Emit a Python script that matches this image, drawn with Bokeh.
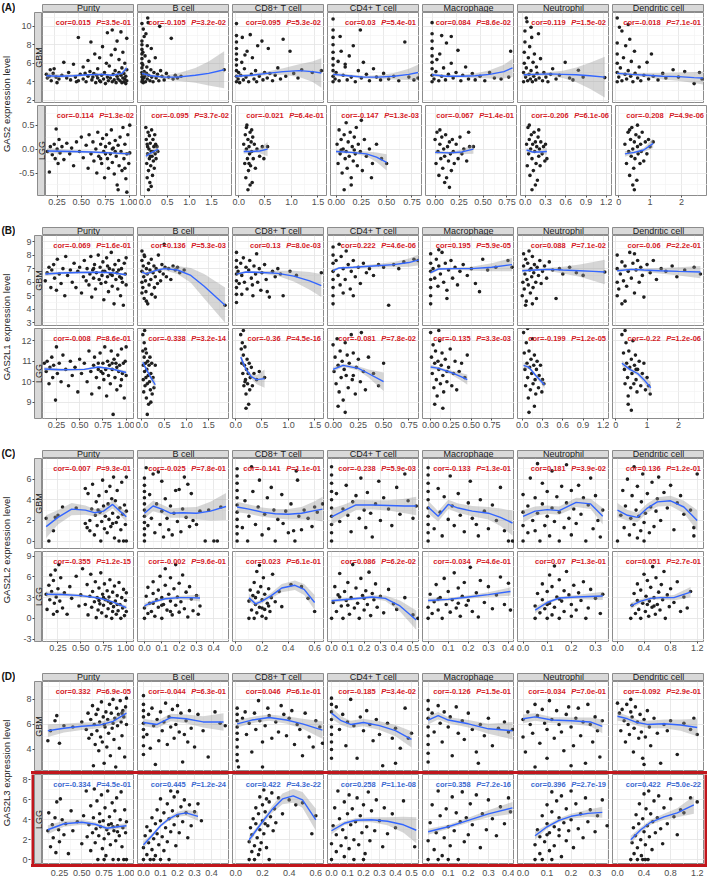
import math
from bokeh.plotting import figure
from bokeh.layouts import row, column
from bokeh.models import Label, FixedTicker, NumeralTickFormatter, Range1d, Grid, LinearAxis, Spacer, Div
from bokeh.embed import file_html
from bokeh.resources import INLINE
from bokeh.core.validation import silence
from bokeh.core.validation.warnings import MISSING_RENDERERS

silence(MISSING_RENDERERS, True)

# ---------------------------------------------------------------- labels
PANELS = ["A", "B", "C", "D"]
GENE_TITLES = ["GAS2 expression level", "GAS2L1 expression level",
               "GAS2L2 expression level", "GAS2L3 expression level"]
CELL_KEYS = ["PUR", "BC", "CD8", "CD4", "MAC", "NEU", "DC"]
CELL_NAMES = ["Purity", "B cell", "CD8+ T cell", "CD4+ T cell",
              "Macrophage", "Neutrophil", "Dendritic cell"]

# ---------------------------------------------------------------- axes
XT_AB = [[0.25, 0.5, 0.75, 1.0], [0, 0.5, 1, 1.5], [0, 0.5, 1, 1.5], [0, 0.25, 0.5, 0.75],
         [0, 0.25, 0.5, 0.75], [0, 0.3, 0.6, 0.9, 1.2], [0, 1, 2]]
XF_AB = ["0.00", "0.0", "0.0", "0.00", "0.00", "0.0", "0"]
XT_CD = [[0.25, 0.5, 0.75, 1.0], [0, 0.1, 0.2, 0.3, 0.4], [0, 0.2, 0.4, 0.6],
         [0, 0.1, 0.2, 0.3, 0.4, 0.5], [0, 0.1, 0.2, 0.3, 0.4], [0, 0.1, 0.2, 0.3], [0, 0.4, 0.8, 1.2]]
XF_CD = ["0.00", "0.0", "0.0", "0.0", "0.0", "0.0", "0.0"]

A_XR = [(0.13, 1.08), (-0.1, 1.97), (-0.055, 1.68), (-0.055, 0.855), (-0.1, 0.86), (-0.07, 1.29), (-0.1, 2.83)]
B_XR = [(0.1, 1.09), (-0.1, 1.97), (-0.055, 1.68), (-0.055, 0.855), (-0.1, 1.03), (-0.07, 1.29), (-0.1, 2.83)]
C_XR = [(0.08, 1.09), (-0.04, 0.49), (-0.025, 0.675), (-0.025, 0.54), (-0.028, 0.43), (-0.023, 0.358), (-0.075, 1.31)]
D_XR = [(0.06, 1.09), (-0.035, 0.505), (-0.025, 0.665), (-0.025, 0.55), (-0.028, 0.43), (-0.023, 0.36), (-0.075, 1.31)]

A_YR_GBM, A_YT_GBM, A_YF_GBM = (1.75, 11.5), [2, 4, 6, 8, 10], "0"
A_YR_LGG, A_YT_LGG, A_YF_LGG = (-0.97, 0.91), [-0.5, 0, 0.5], "0.0"
B_YR_GBM, B_YT_GBM, B_YF_GBM = (2.8, 9.45), [3, 4, 5, 6, 7, 8, 9], "0"
B_YR_LGG, B_YT_LGG, B_YF_LGG = (8.2, 12.6), [9, 10, 11, 12], "0"
C_YR_GBM, C_YT_GBM, C_YF_GBM = (-0.72, 8.0), [0, 2, 4, 6], "0"
C_YR_LGG, C_YT_LGG, C_YF_LGG = (-3.36, 9.7), [-3, 0, 3, 6, 9], "0"
D_YR_GBM, D_YT_GBM, D_YF_GBM = (2.24, 9.43), [4, 6, 8], "0"
D_YR_LGG, D_YT_LGG, D_YF_LGG = (-0.49, 8.55), [0, 2, 4, 6, 8], "0"

# ---------------------------------------------------------------- statistics
A_GBM_COR = ["0.015", "-0.105", "0.095", "0.03", "0.084", "0.119", "-0.018"]
A_GBM_PV = ["3.5e-01", "3.2e-02", "5.3e-02", "5.4e-01", "8.6e-02", "1.5e-02", "7.1e-01"]
A_LGG_COR = ["-0.114", "-0.095", "-0.021", "-0.147", "-0.067", "-0.206", "-0.208"]
A_LGG_PV = ["1.3e-02", "3.7e-02", "6.4e-01", "1.3e-03", "1.4e-01", "6.1e-06", "4.9e-06"]
B_GBM_COR = ["-0.069", "0.136", "0.13", "0.222", "0.195", "0.088", "-0.06"]
B_GBM_PV = ["1.6e-01", "5.3e-03", "8.0e-03", "4.6e-06", "5.9e-05", "7.1e-02", "2.2e-01"]
B_LGG_COR = ["-0.008", "-0.338", "-0.36", "-0.081", "-0.135", "-0.199", "-0.22"]
B_LGG_PV = ["8.6e-01", "3.2e-14", "4.5e-16", "7.8e-02", "3.3e-03", "1.2e-05", "1.2e-06"]
C_GBM_COR = ["-0.007", "-0.025", "-0.141", "-0.238", "-0.133", "0.181", "0.136"]
C_GBM_PV = ["9.3e-01", "7.8e-01", "1.1e-01", "5.9e-03", "1.3e-01", "3.9e-02", "1.2e-01"]
C_LGG_COR = ["-0.355", "-0.002", "0.023", "0.086", "-0.034", "0.07", "0.051"]
C_LGG_PV = ["1.2e-15", "9.6e-01", "6.1e-01", "6.2e-02", "4.6e-01", "1.3e-01", "2.7e-01"]
D_GBM_COR = ["0.332", "-0.044", "0.046", "-0.185", "-0.126", "-0.034", "-0.092"]
D_GBM_PV = ["6.9e-05", "6.3e-01", "6.1e-01", "3.4e-02", "1.5e-01", "7.0e-01", "2.9e-01"]
D_LGG_COR = ["-0.334", "0.445", "0.422", "0.258", "0.358", "0.396", "0.422"]
D_LGG_PV = ["4.5e-01", "1.2e-24", "4.3e-22", "1.1e-08", "7.2e-16", "2.7e-19", "5.0e-22"]

# ---------------------------------------------------------------- panel A (GAS2) points / fits
A_GBM_PUR = [(.17,4.8),(.18,4.4),(.2,4.6),(.21,5.3),(.22,4.1),(.24,4.9),(.25,5.4),(.27,4.5),(.28,3.9),(.3,4.3),(.33,4.7),(.35,6.1),(.38,4.4),(.4,5.0),(.42,4.2),(.45,5.9),(.47,4.5),(.5,8.8),(.5,4.1),(.52,4.8),(.55,5.6),(.55,4.3),(.58,4.0),(.6,4.6),(.6,6.3),(.62,5.1),(.63,8.3),(.64,4.2),(.66,4.9),(.67,7.0),(.68,3.9),(.7,4.4),(.7,5.4),(.72,6.6),(.72,4.1),(.74,4.7),(.75,7.8),(.76,4.3),(.77,5.0),(.78,3.8),(.79,6.0),(.8,4.5),(.8,9.3),(.81,4.1),(.82,5.7),(.83,4.4),(.84,6.9),(.85,4.0),(.85,9.6),(.86,4.8),(.87,4.2),(.88,7.5),(.88,5.2),(.89,3.9),(.9,4.6),(.9,8.4),(.91,4.3),(.92,5.0),(.92,6.4),(.93,4.1),(.94,4.7),(.94,9.4),(.95,3.9),(.95,5.5),(.96,4.4),(.96,7.2),(.97,4.0),(.97,4.9),(.98,4.3),(.98,6.0),(.99,3.8),(.99,4.6),(1.0,5.3),(1.0,4.1),(1.0,8.7),(.65,4.5),(.69,4.7),(.73,4.0),(.57,4.9),(.48,4.0)]
A_GBM_PUR_FIT = [(.17,4.65,.35),(.3,4.6,.2),(.45,4.65,.15),(.6,4.75,.12),(.75,4.8,.12),(.85,4.7,.12),(.95,4.9,.15),(1.0,5.5,.3)]
A_GBM_BC = [(0,4.0),(0,4.5),(0,5.0),(0,5.5),(0,6.0),(0,6.5),(0,7.0),(0,7.5),(0,8.0),(0,8.4),(0,10.3),(.01,4.2),(.01,4.8),(.02,5.8),(.02,7.2),(.03,3.9),(.04,4.4),(.05,5.1),(.06,4.6),(.07,6.8),(.08,4.0),(.09,9.2),(.1,4.9),(.11,5.6),(.12,4.3),(.13,10.9),(.14,10.4),(.15,4.7),(.16,6.2),(.18,4.1),(.2,5.3),(.21,7.6),(.22,4.5),(.25,4.0),(.27,5.0),(.3,6.6),(.32,4.4),(.35,4.8),(.38,4.1),(.4,10.0),(.42,5.2),(.45,4.6),(.5,4.2),(.55,4.9),(.6,4.5),(.66,8.7),(.7,4.3),(.75,4.7),(.8,4.4),(.88,4.6),(1.85,5.3),(.05,8.9),(.03,9.7),(.12,7.9)]
A_GBM_BC_FIT = [(0,4.9,.25),(.2,4.65,.15),(.5,4.5,.2),(.8,4.5,.4),(1.2,4.7,.8),(1.5,4.9,1.3),(1.85,5.3,2.0)]
A_GBM_CD8 = [(.02,4.0),(.02,4.6),(.02,5.2),(.02,5.8),(.02,6.4),(.02,7.0),(.02,7.6),(.02,8.3),(.02,9.0),(.02,10.3),(.05,4.3),(.06,5.0),(.08,3.9),(.1,4.7),(.12,6.1),(.15,4.2),(.17,5.4),(.2,4.5),(.22,7.3),(.25,4.0),(.28,9.1),(.3,4.8),(.32,6.6),(.35,4.3),(.38,5.2),(.4,4.0),(.42,7.9),(.45,4.6),(.5,8.4),(.52,4.2),(.55,5.0),(.6,4.4),(.62,7.6),(.65,4.9),(.7,4.1),(.75,4.7),(.8,5.5),(.85,4.3),(.9,8.6),(.95,4.6),(1.03,7.3),(1.1,4.9),(1.18,4.4),(1.25,5.3),(1.45,5.0),(1.62,5.2),(.13,8.8),(.18,6.9)]
A_GBM_CD8_FIT = [(0,4.6,.2),(.3,4.7,.15),(.6,4.9,.2),(.9,5.1,.35),(1.2,5.2,.7),(1.45,5.1,1.1),(1.62,4.95,1.6)]
A_GBM_CD4 = [(0,4.0),(0,4.6),(0,5.2),(0,5.8),(0,6.5),(0,7.2),(0,8.0),(0,8.8),(0,9.6),(0,10.8),(.02,4.3),(.03,5.0),(.05,6.2),(.06,4.1),(.08,7.3),(.1,4.7),(.12,5.6),(.14,4.2),(.16,6.8),(.18,4.5),(.2,7.9),(.22,4.0),(.25,5.2),(.27,9.6),(.28,4.4),(.3,6.1),(.33,4.8),(.36,4.1),(.4,5.4),(.43,4.5),(.47,4.2),(.5,4.9),(.55,4.3),(.6,4.6),(.65,4.1),(.71,8.3),(.75,4.5),(.8,4.2),(.84,4.4),(.07,8.9),(.12,5.9)]
A_GBM_CD4_FIT = [(0,4.8,.2),(.15,4.65,.15),(.3,4.5,.15),(.45,4.5,.2),(.6,4.6,.35),(.75,4.8,.6),(.84,5.0,.85)]
A_GBM_MAC = [(0,4.0),(0,4.7),(0,5.4),(0,6.1),(0,6.8),(0,7.6),(0,8.4),(0,9.2),(0,10.4),(.02,4.3),(.04,5.1),(.05,6.4),(.07,4.1),(.08,7.0),(.1,4.6),(.12,5.5),(.14,4.2),(.15,8.2),(.17,4.8),(.2,6.0),(.22,4.4),(.25,5.0),(.27,7.4),(.3,4.1),(.32,4.7),(.35,5.6),(.38,4.3),(.42,4.9),(.45,4.2),(.5,4.6),(.55,4.1),(.6,5.0),(.65,4.4),(.72,4.3),(.8,4.5),(.82,7.3),(.1,9.0),(.2,8.9)]
A_GBM_MAC_FIT = [(0,4.75,.2),(.15,4.6,.15),(.3,4.6,.15),(.45,4.65,.25),(.6,4.8,.45),(.75,5.1,.75),(.84,5.5,1.0)]
A_GBM_NEU = [(.02,4.0),(.02,5.0),(.03,6.0),(.03,7.2),(.04,8.3),(.04,9.5),(.05,4.5),(.06,5.5),(.07,10.5),(.08,4.1),(.09,6.6),(.1,4.8),(.11,7.8),(.12,4.3),(.13,5.2),(.14,8.8),(.15,4.0),(.16,6.1),(.17,4.6),(.18,7.0),(.2,4.2),(.21,5.6),(.22,4.9),(.24,9.2),(.25,4.4),(.27,6.5),(.3,4.1),(.32,5.0),(.35,4.5),(.38,4.0),(.42,4.8),(.45,5.4),(.5,4.3),(.55,4.7),(.635,6.1),(.7,4.4),(.75,4.2),(.83,5.25),(.9,4.5),(1.22,4.45),(.06,10.9),(.13,9.9)]
A_GBM_NEU_FIT = [(.02,4.75,.2),(.2,4.8,.15),(.4,4.85,.2),(.6,4.8,.4),(.8,4.75,.8),(1.0,4.65,1.4),(1.22,4.5,2.2)]
A_GBM_DC = [(.05,4.0),(.05,5.0),(.05,6.0),(.05,7.0),(.05,8.2),(.05,10.9),(.1,4.5),(.15,5.5),(.2,9.5),(.2,4.1),(.25,6.6),(.3,4.8),(.32,7.9),(.35,4.3),(.4,5.2),(.45,8.6),(.48,4.6),(.5,6.2),(.55,4.0),(.6,7.3),(.62,4.9),(.7,4.4),(.75,5.6),(.8,4.1),(.9,4.7),(1.0,6.1),(1.05,4.3),(1.14,7.0),(1.2,4.6),(1.35,4.2),(1.5,4.9),(1.6,4.4),(1.83,5.3),(2.0,4.5),(2.2,5.1),(2.5,3.8),(2.67,5.0),(2.75,4.3),(.12,9.9),(.4,10.2)]
A_GBM_DC_FIT = [(.05,4.9,.2),(.5,4.8,.15),(1.0,4.7,.25),(1.5,4.6,.35),(2.0,4.55,.45),(2.5,4.45,.6),(2.78,4.4,.7)]
A_LGG_PUR = [(.15,-.05),(.17,-.48),(.18,.05),(.2,-.12),(.22,.1),(.23,-.2),(.24,.42),(.25,0),(.26,-.3),(.27,.2),(.28,-.08),(.3,.05),(.32,-.22),(.35,.12),(.38,-.1),(.4,.02),(.42,-.35),(.45,.15),(.48,-.05),(.5,.25),(.52,-.18),(.55,.08),(.57,-.4),(.58,.3),(.6,-.1),(.62,.15),(.63,-.25),(.65,0),(.66,-.5),(.67,.35),(.68,-.15),(.7,.1),(.71,-.3),(.72,.22),(.73,-.05),(.74,-.6),(.75,.05),(.76,.3),(.77,-.2),(.78,-.4),(.79,.12),(.8,-.1),(.81,.4),(.82,-.28),(.83,.02),(.84,-.52),(.85,.18),(.86,-.15),(.87,-.75),(.88,.08),(.89,-.35),(.9,.25),(.91,-.05),(.92,-.45),(.93,.45),(.94,-.2),(.95,.1),(.96,-.62),(.97,-.1),(.98,.3),(.99,-.3),(1.0,.5),(1.0,-.08),(.88,-.85),(.97,-.9),(.95,-.4),(.85,-.05),(.75,-.1),(.7,-.2),(.82,0)]
A_LGG_PUR_FIT = [(.15,-.04,.06),(.4,-.05,.03),(.6,-.06,.025),(.8,-.08,.025),(1.0,-.1,.04)]
A_LGG_BC = [(.02,.45),(.03,.2),(.04,-.3),(.05,.1),(.05,-.6),(.06,-.1),(.07,.35),(.08,-.45),(.09,0),(.1,-.2),(.1,.28),(.11,-.7),(.12,.12),(.13,-.35),(.14,-.05),(.15,.4),(.16,-.15),(.17,-.55),(.18,.2),(.19,-.25),(.2,.05),(.21,-.4),(.22,.3),(.23,-.1),(.24,.1),(.25,-.2),(.27,.05),(.29,-.05),(.08,-.85),(.14,-.78),(.06,.05),(.12,-.15),(.18,-.05)]
A_LGG_BC_FIT = [(.02,-.15,.06),(.1,-.1,.03),(.2,-.05,.04),(.3,0,.09)]
A_LGG_CD8 = [(.1,.1),(.12,-.3),(.13,.3),(.14,-.6),(.15,0),(.16,.5),(.17,-.2),(.18,.2),(.19,-.45),(.2,.05),(.21,-.1),(.22,.35),(.23,-.35),(.24,.15),(.25,-.05),(.26,-.7),(.27,.25),(.28,-.2),(.3,.1),(.32,-.4),(.35,0),(.4,-.15),(.45,.05),(.55,.05),(.18,-.85),(.22,-.75),(.15,.45),(.2,-.3),(.25,.4),(.48,-.2)]
A_LGG_CD8_FIT = [(.1,-.05,.05),(.25,-.05,.025),(.4,-.04,.05),(.55,0,.15)]
A_LGG_CD4 = [(.01,.1),(.02,-.3),(.03,.4),(.04,-.1),(.05,.2),(.06,-.5),(.07,0),(.08,.3),(.09,-.2),(.1,.55),(.1,-.05),(.11,-.4),(.12,.15),(.13,-.15),(.14,.35),(.15,-.6),(.16,.05),(.17,-.25),(.18,.25),(.19,-.1),(.2,.45),(.21,-.35),(.22,.1),(.24,-.05),(.26,-.45),(.28,.2),(.3,-.15),(.33,0),(.36,-.3),(.4,.1),(.45,-.2),(.5,-.3),(.15,-.75),(.08,-.85),(.25,.6),(.35,-.6),(.05,-.02),(.18,-.02)]
A_LGG_CD4_FIT = [(0,-.05,.04),(.15,-.07,.025),(.3,-.1,.05),(.4,-.17,.1),(.5,-.28,.17)]
A_LGG_MAC = [(0,.2),(.01,-.3),(.02,.35),(.03,-.05),(.04,-.55),(.05,.1),(.06,-.2),(.07,.25),(.08,-.4),(.09,0),(.1,-.15),(.11,.3),(.12,-.6),(.13,.05),(.14,-.25),(.15,.15),(.16,-.1),(.17,-.45),(.18,.2),(.19,-.05),(.2,-.3),(.22,.1),(.24,-.2),(.26,.25),(.28,-.1),(.3,0),(.33,-.25),(.36,.05),(.4,.05),(.35,.35),(.15,-.8),(.05,.4),(.1,-.7)]
A_LGG_MAC_FIT = [(0,-.07,.04),(.15,-.08,.025),(.28,-.06,.05),(.4,0,.1)]
A_LGG_NEU = [(.02,.1),(.03,-.35),(.04,.45),(.05,-.1),(.06,.2),(.07,-.55),(.08,0),(.09,.3),(.1,-.2),(.11,.1),(.12,-.45),(.13,.35),(.14,-.05),(.15,.15),(.16,-.3),(.17,.05),(.18,-.65),(.19,.25),(.2,-.15),(.21,0),(.22,-.35),(.23,.15),(.25,-.1),(.27,.05),(.29,-.25),(.3,.1),(.32,-.2),(.1,-.85),(.15,-.75),(.06,.5),(.2,.4)]
A_LGG_NEU_FIT = [(.02,-.02,.05),(.1,-.06,.03),(.2,-.06,.03),(.32,-.05,.07)]
A_LGG_DC = [(.2,.1),(.25,-.3),(.3,.35),(.32,-.05),(.35,-.55),(.38,.2),(.4,-.15),(.42,.45),(.45,0),(.48,-.4),(.5,.15),(.52,-.2),(.55,.3),(.58,-.65),(.6,.05),(.62,-.1),(.65,.25),(.68,-.3),(.7,.1),(.72,-.05),(.75,.35),(.8,-.25),(.85,.15),(.9,-.1),(.95,.2),(1.0,.05),(1.1,.15),(.5,-.85),(.45,-.75),(.6,.5),(.35,.4)]
A_LGG_DC_FIT = [(.2,-.1,.06),(.5,-.07,.03),(.8,-.02,.04),(1.1,.12,.1)]

# ---------------------------------------------------------------- panel B (GAS2L1)
B_GBM_PUR = [(.13,6.1),(.15,6.7),(.17,7.1),(.19,5.6),(.2,6.9),(.22,7.3),(.23,6.3),(.25,5.4),(.26,7.7),(.28,6.6),(.3,5.9),(.32,7.0),(.34,5.0),(.35,7.9),(.37,6.5),(.4,6.9),(.42,6.0),(.44,7.4),(.46,5.6),(.48,6.8),(.5,7.1),(.52,5.2),(.54,6.4),(.55,7.6),(.57,6.1),(.58,7.0),(.6,5.8),(.61,6.6),(.62,7.9),(.63,4.9),(.64,6.9),(.65,6.3),(.66,7.3),(.67,5.5),(.68,6.7),(.7,8.0),(.71,6.2),(.72,7.1),(.73,5.9),(.74,6.5),(.75,7.5),(.76,4.7),(.77,6.8),(.78,6.0),(.79,7.8),(.8,6.4),(.81,5.3),(.82,7.0),(.83,6.6),(.84,8.2),(.85,5.7),(.86,6.9),(.87,4.4),(.88,7.3),(.89,6.2),(.9,6.7),(.91,5.5),(.92,7.6),(.93,6.4),(.94,5.0),(.95,7.0),(.96,6.0),(.97,4.3),(.98,7.4),(.99,6.6),(1.0,5.8),(1.0,7.8),(.75,6.8),(.85,6.5),(.92,6.9),(.65,7.0),(.8,7.2),(.95,6.3)]
B_GBM_PUR_FIT = [(.13,6.6,.15),(.3,6.68,.1),(.5,6.72,.08),(.7,6.74,.06),(.85,6.7,.06),(1.0,6.55,.1)]
B_GBM_BC = [(0,5.2),(0,6.0),(0,6.8),(0,7.6),(0,8.3),(.02,5.6),(.03,7.2),(.04,6.4),(.05,4.8),(.06,7.9),(.08,6.1),(.09,5.3),(.1,7.0),(.12,6.6),(.13,4.4),(.15,7.4),(.16,5.8),(.18,6.9),(.2,6.2),(.21,7.7),(.22,5.1),(.25,6.7),(.27,7.2),(.28,5.6),(.3,6.4),(.32,7.0),(.35,5.9),(.37,8.0),(.4,6.8),(.42,6.1),(.45,7.3),(.48,6.6),(.5,8.8),(.52,7.1),(.55,6.4),(.6,7.0),(.65,6.2),(.7,7.2),(.75,6.9),(.8,7.1),(.85,6.7),(.95,6.9),(1.87,4.3),(.1,4.6),(.05,8.0),(.3,4.9)]
B_GBM_BC_FIT = [(0,6.75,.15),(.1,6.62,.12),(.3,6.85,.1),(.5,7.0,.12),(.8,6.9,.3),(1.1,6.5,.55),(1.4,5.7,.9),(1.87,4.3,1.3)]
B_GBM_CD8 = [(.02,4.5),(.02,5.1),(.02,5.6),(.02,6.1),(.02,6.6),(.02,7.1),(.02,7.6),(.02,8.2),(.05,6.8),(.07,5.9),(.1,7.4),(.12,6.5),(.15,7.8),(.17,6.0),(.2,7.1),(.22,5.5),(.25,6.9),(.27,7.6),(.3,6.3),(.32,5.8),(.35,7.2),(.38,6.6),(.4,8.1),(.42,6.0),(.45,7.0),(.48,5.4),(.5,6.7),(.55,7.3),(.58,6.2),(.64,4.9),(.7,6.8),(.75,6.4),(.8,7.0),(.85,6.6),(.9,5.0),(1.03,6.8),(1.15,6.5),(1.62,6.7),(.6,5.3),(.33,5.0),(.12,5.1)]
B_GBM_CD8_FIT = [(.02,6.6,.1),(.2,6.75,.08),(.5,6.72,.1),(.8,6.65,.2),(1.1,6.45,.4),(1.4,6.1,.65),(1.62,5.75,.85)]
B_GBM_CD4 = [(0,4.4),(0,5.0),(0,5.6),(0,6.2),(0,6.8),(0,7.4),(0,8.0),(0,8.6),(.03,7.6),(.05,6.5),(.07,5.8),(.08,7.9),(.1,7.0),(.12,6.2),(.13,8.3),(.15,7.3),(.17,5.5),(.18,6.8),(.2,7.6),(.22,6.4),(.25,7.1),(.27,5.9),(.3,7.4),(.33,6.7),(.36,7.0),(.4,6.5),(.45,7.3),(.5,7.1),(.55,4.3),(.6,7.3),(.65,7.0),(.7,7.5),(.8,7.7),(.84,7.6),(.06,8.8),(.1,5.2),(.2,5.0)]
B_GBM_CD4_FIT = [(0,6.85,.12),(.06,7.05,.08),(.2,7.1,.08),(.4,7.2,.12),(.6,7.3,.2),(.75,7.45,.3),(.85,7.65,.4)]
B_GBM_MAC = [(0,4.4),(0,5.0),(0,5.6),(0,6.2),(0,6.8),(0,7.4),(0,8.1),(.03,7.0),(.05,6.3),(.07,7.7),(.09,5.7),(.1,7.2),(.12,6.6),(.14,8.2),(.16,6.0),(.18,7.4),(.2,5.4),(.22,6.9),(.25,7.6),(.27,6.3),(.3,7.1),(.33,5.8),(.36,6.8),(.4,7.3),(.45,6.5),(.5,7.0),(.55,5.9),(.6,5.3),(.64,7.7),(.7,6.9),(.8,7.1),(.95,7.6),(1.0,7.1),(.2,4.8),(.1,8.4)]
B_GBM_MAC_FIT = [(0,6.7,.12),(.1,6.98,.08),(.3,7.0,.08),(.5,7.0,.15),(.75,7.1,.3),(1.0,7.3,.5)]
B_GBM_NEU = [(0,5.0),(.01,6.0),(.02,7.2),(.02,8.1),(.03,5.5),(.04,6.6),(.05,7.7),(.06,4.6),(.07,6.2),(.08,7.4),(.09,5.8),(.1,8.3),(.11,6.9),(.12,5.2),(.13,7.0),(.14,6.4),(.15,7.9),(.16,5.6),(.17,6.7),(.18,7.3),(.2,6.0),(.21,4.8),(.22,7.1),(.24,6.5),(.26,7.6),(.28,5.9),(.3,6.8),(.33,7.2),(.36,6.3),(.4,7.5),(.45,6.9),(.5,4.8),(.55,7.0),(.6,6.6),(.7,7.1),(.8,6.7),(.9,6.5),(1.22,6.75),(.05,4.3),(.15,4.4)]
B_GBM_NEU_FIT = [(0,6.85,.12),(.2,6.9,.08),(.4,6.95,.12),(.6,6.9,.25),(.85,6.85,.45),(1.05,6.8,.7),(1.22,6.75,.9)]
B_GBM_DC = [(.05,5.0),(.05,6.0),(.05,7.0),(.05,8.0),(.1,5.5),(.15,6.6),(.2,7.5),(.2,4.4),(.25,6.1),(.3,7.2),(.35,5.7),(.4,6.8),(.45,8.2),(.5,6.3),(.55,7.4),(.6,5.2),(.65,6.9),(.7,7.6),(.75,6.0),(.8,7.1),(.85,6.5),(.9,4.9),(1.0,7.3),(1.1,6.7),(1.2,7.6),(1.3,6.2),(1.45,7.0),(1.6,6.8),(1.8,7.2),(1.95,6.4),(2.2,6.9),(2.5,7.1),(2.7,6.6),(.3,4.6),(.6,8.1)]
B_GBM_DC_FIT = [(.05,6.85,.12),(.5,6.95,.08),(.9,6.9,.12),(1.4,6.85,.2),(2.0,6.8,.3),(2.7,6.75,.45)]
B_LGG_PUR = [(.12,10.9),(.14,10.5),(.15,11.0),(.17,9.9),(.18,10.7),(.2,11.2),(.21,10.2),(.22,10.8),(.24,9.1),(.25,11.7),(.26,10.4),(.28,10.9),(.3,10.0),(.32,11.3),(.35,10.6),(.38,9.8),(.4,11.0),(.42,10.3),(.45,10.7),(.48,9.5),(.5,11.1),(.52,10.4),(.55,10.9),(.58,10.0),(.6,11.5),(.62,10.5),(.63,9.4),(.65,10.8),(.66,11.2),(.68,10.2),(.7,10.9),(.71,9.7),(.72,11.4),(.73,10.5),(.75,10.9),(.76,10.1),(.77,11.7),(.78,10.6),(.79,9.3),(.8,11.0),(.81,10.3),(.82,10.8),(.83,9.9),(.84,11.5),(.85,10.6),(.86,8.4),(.87,11.1),(.88,10.2),(.89,10.9),(.9,9.6),(.91,11.3),(.92,10.5),(.93,10.8),(.94,9.8),(.95,11.6),(.96,10.4),(.97,10.9),(.98,9.2),(.99,11.0),(1.0,10.3),(1.0,11.7),(.85,10.9),(.75,10.4),(.9,10.7),(.95,10.1),(.7,10.6)]
B_LGG_PUR_FIT = [(.12,10.62,.1),(.3,10.58,.06),(.55,10.6,.05),(.7,10.72,.05),(.85,10.62,.05),(1.0,10.45,.08)]
B_LGG_BC = [(.02,12.3),(.02,11.5),(.03,10.8),(.03,10.1),(.04,9.5),(.05,11.9),(.05,11.2),(.06,10.5),(.07,9.8),(.08,11.6),(.08,10.9),(.09,10.2),(.1,9.2),(.1,11.4),(.11,10.6),(.12,9.9),(.13,11.0),(.14,10.3),(.15,8.9),(.16,10.8),(.17,10.0),(.18,11.2),(.19,9.6),(.2,10.4),(.22,10.9),(.23,9.4),(.25,10.2),(.27,9.7),(.3,10.8),(.12,8.4),(.06,12.5),(.2,9.0)]
B_LGG_BC_FIT = [(.02,10.95,.15),(.1,10.6,.08),(.2,10.2,.1),(.3,9.85,.22)]
B_LGG_CD8 = [(.1,12.3),(.11,11.6),(.12,10.9),(.13,11.9),(.14,10.4),(.15,11.3),(.16,9.8),(.17,10.8),(.18,11.7),(.19,10.1),(.2,9.4),(.21,10.6),(.22,11.1),(.23,9.9),(.24,10.4),(.25,8.9),(.26,10.9),(.27,9.6),(.28,10.2),(.3,10.7),(.32,9.8),(.35,10.4),(.4,10.1),(.45,10.5),(.55,10.2),(.15,12.5),(.2,8.7),(.18,10.0)]
B_LGG_CD8_FIT = [(.1,11.2,.2),(.2,10.6,.08),(.3,10.25,.12),(.4,10.1,.22),(.55,10.15,.45)]
B_LGG_CD4 = [(0,11.8),(.01,10.5),(.02,11.2),(.03,9.9),(.04,12.1),(.05,10.8),(.06,9.5),(.07,11.5),(.08,10.2),(.09,11.0),(.1,9.1),(.11,10.6),(.12,11.9),(.13,10.3),(.14,11.3),(.15,9.7),(.16,10.9),(.18,12.3),(.19,10.1),(.2,11.4),(.22,9.4),(.23,10.7),(.25,11.1),(.27,10.0),(.3,10.5),(.32,9.6),(.35,11.2),(.4,10.4),(.45,9.8),(.5,10.9),(.05,8.8),(.12,8.5),(.28,12.4),(.2,10.3)]
B_LGG_CD4_FIT = [(0,10.6,.12),(.1,10.8,.08),(.25,10.65,.1),(.35,10.4,.2),(.5,10.0,.45)]
B_LGG_MAC = [(0,12.4),(.01,11.2),(.02,10.4),(.03,11.8),(.04,9.7),(.05,10.9),(.06,11.5),(.07,10.1),(.08,9.3),(.09,11.0),(.1,10.6),(.11,12.0),(.12,9.9),(.13,10.8),(.14,11.4),(.15,10.3),(.16,9.5),(.18,11.1),(.2,10.0),(.22,10.7),(.24,11.6),(.26,9.8),(.28,10.4),(.3,11.0),(.32,9.6),(.35,10.5),(.38,10.9),(.42,10.2),(.45,11.3),(.05,8.9),(.15,8.7),(.1,12.5),(.2,10.5)]
B_LGG_MAC_FIT = [(0,10.72,.12),(.1,10.65,.07),(.25,10.45,.1),(.4,10.2,.2),(.45,10.1,.25)]
B_LGG_NEU = [(.02,12.4),(.03,11.4),(.04,10.6),(.05,9.8),(.06,11.9),(.07,10.9),(.08,10.2),(.09,9.2),(.1,11.5),(.11,10.7),(.12,9.6),(.13,11.1),(.14,10.4),(.15,12.1),(.16,9.9),(.17,10.8),(.18,11.3),(.19,10.1),(.2,9.4),(.21,10.6),(.22,11.0),(.24,9.7),(.25,10.3),(.27,10.8),(.29,9.5),(.3,10.1),(.32,9.9),(.1,8.5),(.08,12.6),(.18,8.8)]
B_LGG_NEU_FIT = [(.02,10.8,.15),(.1,10.7,.08),(.2,10.3,.08),(.3,9.95,.15),(.33,9.85,.2)]
B_LGG_DC = [(.2,12.3),(.25,11.4),(.28,10.6),(.3,9.9),(.33,11.9),(.35,10.9),(.38,10.2),(.4,9.3),(.42,11.5),(.45,10.7),(.48,9.7),(.5,11.1),(.52,10.4),(.55,12.0),(.58,9.9),(.6,10.8),(.63,11.3),(.65,10.1),(.68,9.5),(.7,10.6),(.75,11.0),(.8,9.8),(.85,10.4),(.9,10.9),(.95,9.6),(1.0,10.2),(1.05,9.8),(1.1,9.4),(.5,8.6),(.4,8.9),(.3,12.5),(.65,10.6)]
B_LGG_DC_FIT = [(.2,10.9,.15),(.45,10.6,.08),(.7,10.4,.1),(.9,10.1,.15),(1.12,9.7,.3)]

# ---------------------------------------------------------------- panel C (GAS2L2)
C_GBM_PUR = [(.12,2.2),(.15,0),(.2,1.0),(.22,2.3),(.25,2.5),(.3,3.3),(.45,3.2),(.55,5.1),(.57,1.3),(.58,4.6),(.6,1.0),(.6,2.0),(.62,3.1),(.63,5.5),(.65,.6),(.66,2.5),(.67,3.8),(.68,1.5),(.7,4.4),(.71,2.8),(.72,0),(.73,1.9),(.74,5.9),(.75,3.4),(.76,1.2),(.77,2.4),(.78,4.8),(.79,.8),(.8,3.6),(.81,2.1),(.82,5.3),(.83,1.4),(.84,4.1),(.85,2.7),(.86,6.2),(.87,.3),(.88,3.9),(.89,1.8),(.9,4.9),(.91,2.3),(.92,0),(.93,3.2),(.94,1.1),(.95,5.7),(.96,2.6),(.97,0),(.98,3.5),(.99,1.6),(1.0,0),(1.0,6.2),(1.0,2.9),(.55,1.7),(.69,3.0),(.85,1.7)]
C_GBM_PUR_FIT = [(.12,1.4,1.1),(.25,2.3,.7),(.4,3.1,.6),(.55,3.0,.45),(.65,2.75,.35),(.75,2.9,.35),(.85,3.55,.4),(.93,2.9,.4),(1.0,2.35,.5)]
C_GBM_BC = [(0,0),(0,.6),(0,1.2),(0,1.8),(0,2.4),(0,3.0),(0,3.6),(0,4.2),(0,4.8),(0,5.4),(0,6.1),(.01,7.1),(.02,1.5),(.03,4.5),(.04,2.2),(.05,6.5),(.06,.8),(.07,3.6),(.08,6.7),(.09,1.6),(.1,5.8),(.1,2.9),(.11,.4),(.12,4.1),(.13,2.2),(.14,1.1),(.15,3.4),(.16,.6),(.17,2.7),(.18,4.9),(.19,1.9),(.2,5.0),(.21,.9),(.22,3.1),(.23,6.2),(.24,2.3),(.25,5.5),(.26,1.4),(.27,4.6),(.28,2.0),(.3,1.6),(.32,2.9),(.35,0),(.37,3.0),(.4,0),(.42,0),(.44,3.3)]
C_GBM_BC_FIT = [(0,2.7,.5),(.05,3.4,.5),(.1,3.1,.45),(.15,2.7,.45),(.22,2.75,.5),(.3,2.7,.6),(.38,2.9,.9),(.47,3.35,1.3)]
C_GBM_CD8 = [(.01,0),(.01,.7),(.01,1.4),(.01,2.1),(.01,2.8),(.01,3.5),(.01,4.2),(.01,4.9),(.01,5.6),(.01,6.3),(.01,7.0),(.05,1.3),(.07,3.9),(.09,0),(.1,2.4),(.12,7.2),(.13,4.8),(.15,1.6),(.17,3.3),(.18,5.9),(.2,.6),(.22,2.6),(.24,4.2),(.25,1.2),(.27,5.2),(.29,3.0),(.3,0),(.32,2.1),(.35,4.5),(.36,1.7),(.38,2.9),(.4,.8),(.42,3.6),(.44,1.0),(.46,6.8),(.47,5.9),(.48,2.4),(.5,1.1),(.52,3.0),(.55,2.2),(.58,1.4),(.6,3.3),(.62,2.8),(.66,3.6),(.45,0)]
C_GBM_CD8_FIT = [(.01,3.3,.5),(.1,3.1,.45),(.2,2.8,.45),(.3,2.65,.45),(.4,2.6,.5),(.5,2.7,.6),(.6,2.95,.9),(.66,3.1,1.2)]
C_GBM_CD4 = [(0,0),(0,.8),(0,1.6),(0,2.4),(0,3.2),(0,4.0),(0,4.8),(0,5.6),(0,6.4),(0,7.2),(.03,4.6),(.05,1.9),(.07,3.1),(.09,5.4),(.1,2.5),(.12,.9),(.13,3.8),(.15,4.4),(.17,2.2),(.18,6.1),(.2,3.0),(.21,1.3),(.22,4.7),(.24,2.7),(.25,.4),(.27,3.6),(.29,5.8),(.3,2.0),(.32,4.2),(.35,3.1),(.37,1.5),(.4,5.2),(.42,2.6),(.45,6.5),(.47,3.9),(.5,2.2),(.52,3.4)]
C_GBM_CD4_FIT = [(0,2.35,.8),(.07,2.9,.6),(.15,3.5,.5),(.25,3.5,.45),(.35,3.45,.5),(.45,3.4,.7),(.52,3.4,.9)]
C_GBM_MAC = [(0,0),(0,.8),(0,1.6),(0,2.4),(0,3.2),(0,4.0),(0,4.8),(0,5.6),(0,6.4),(0,7.1),(.03,1.2),(.05,5.1),(.06,2.8),(.07,.5),(.08,4.3),(.1,2.1),(.11,6.3),(.12,3.4),(.13,1.5),(.15,4.6),(.16,2.5),(.18,.9),(.2,3.7),(.21,5.8),(.22,2.2),(.24,1.6),(.26,4.0),(.28,2.9),(.3,1.2),(.32,3.5),(.34,2.0),(.36,5.2),(.38,1.0),(.4,0),(.42,0),(.25,.5)]
C_GBM_MAC_FIT = [(0,3.3,.6),(.05,2.4,.5),(.1,3.55,.45),(.15,3.2,.45),(.22,2.9,.5),(.3,2.7,.6),(.36,2.3,.85),(.42,1.75,1.2)]
C_GBM_NEU = [(0,0),(0,1.5),(0,2.8),(0,4.5),(.02,.8),(.02,3.4),(.03,6.1),(.04,2.0),(.05,1.0),(.05,4.2),(.06,2.7),(.07,0),(.08,3.6),(.08,5.6),(.09,1.5),(.1,2.4),(.1,4.8),(.11,.5),(.12,3.2),(.12,6.8),(.13,1.9),(.14,4.3),(.15,2.8),(.15,0),(.16,5.3),(.17,1.3),(.18,3.7),(.19,2.2),(.2,4.9),(.2,.6),(.21,3.1),(.22,1.7),(.23,5.4),(.24,2.6),(.25,4.2),(.26,0),(.27,3.5),(.28,6.1),(.29,1.2),(.3,4.4),(.31,2.0),(.32,.4),(.33,3.0),(.06,7.5),(.18,7.4)]
C_GBM_NEU_FIT = [(0,2.4,.6),(.05,2.9,.45),(.1,3.05,.4),(.15,2.95,.4),(.22,3.75,.45),(.28,3.6,.5),(.33,2.4,.8)]
C_GBM_DC = [(0,0),(.05,2.5),(.08,4.9),(.1,1.3),(.12,3.4),(.15,6.0),(.18,.6),(.2,2.2),(.22,4.4),(.25,1.6),(.28,3.0),(.3,.3),(.3,5.3),(.32,2.4),(.35,1.0),(.36,3.8),(.38,6.5),(.4,1.8),(.42,2.7),(.45,4.6),(.48,.8),(.5,3.3),(.52,5.7),(.55,1.4),(.58,2.9),(.6,4.1),(.62,6.2),(.65,2.0),(.7,4.7),(.75,3.2),(.8,5.4),(.85,1.1),(.9,3.7),(.95,4.4),(1.0,2.6),(1.1,3.0),(1.15,.5),(1.2,6.5),(1.15,1.3),(.25,7.2),(.4,0)]
C_GBM_DC_FIT = [(0,3.0,.7),(.15,2.5,.5),(.3,2.3,.45),(.45,3.2,.45),(.6,3.8,.45),(.8,3.9,.5),(1.0,3.3,.6),(1.2,2.0,1.0)]
C_LGG_PUR = [(.12,3.5),(.13,1.3),(.15,4.8),(.16,2.7),(.17,6.3),(.18,3.9),(.2,.6),(.2,5.5),(.21,2.2),(.22,7.0),(.23,3.1),(.24,1.0),(.25,4.3),(.26,7.8),(.27,2.5),(.28,5.9),(.3,1.5),(.32,3.7),(.35,.6),(.38,4.6),(.4,2.9),(.45,6.1),(.48,1.8),(.5,3.4),(.52,7.2),(.55,2.0),(.57,4.9),(.58,.5),(.6,3.2),(.61,6.4),(.62,1.6),(.63,3.9),(.65,2.4),(.66,5.3),(.67,.1),(.68,3.0),(.69,1.2),(.7,4.4),(.71,2.1),(.72,6.6),(.73,.8),(.74,3.5),(.75,1.9),(.76,5.0),(.77,2.7),(.78,.3),(.79,4.0),(.8,1.4),(.81,3.1),(.82,5.6),(.83,2.2),(.84,0),(.85,3.8),(.86,1.7),(.87,4.7),(.88,2.5),(.89,.6),(.9,3.3),(.91,1.1),(.92,5.2),(.93,2.0),(.94,0),(.95,3.0),(.96,1.5),(.97,4.2),(.98,.4),(.99,2.6),(1.0,1.0),(1.0,3.7),(.8,2.5),(.9,2.0),(.85,1.0),(.75,3.0),(.7,2.6)]
C_LGG_PUR_FIT = [(.12,3.5,.4),(.3,3.45,.25),(.5,3.3,.2),(.7,2.95,.15),(.85,2.4,.15),(1.0,1.55,.3)]
C_LGG_BC = [(0,0),(0,1.5),(.01,3.2),(.02,.7),(.02,4.5),(.03,2.2),(.04,1.0),(.05,3.6),(.05,5.3),(.06,.3),(.07,2.7),(.08,4.1),(.08,1.6),(.09,6.1),(.1,0),(.1,3.0),(.11,2.0),(.12,4.8),(.12,7.2),(.13,1.2),(.14,3.5),(.15,2.5),(.15,5.9),(.16,.5),(.17,4.3),(.18,1.9),(.18,7.8),(.19,3.1),(.2,.9),(.2,5.1),(.21,2.4),(.22,6.3),(.23,1.4),(.24,3.8),(.25,.2),(.26,4.6),(.27,2.8),(.28,1.1),(.3,3.3),(.31,.6),(.32,1.8),(.1,1.9),(.05,2.2),(.15,1.0)]
C_LGG_BC_FIT = [(0,1.8,.4),(.05,2.4,.25),(.12,2.85,.2),(.2,3.0,.25),(.26,3.0,.35),(.32,2.95,.5)]
C_LGG_CD8 = [(.1,0),(.1,2.5),(.11,4.1),(.12,1.2),(.13,3.3),(.14,0),(.14,5.2),(.15,2.0),(.16,6.8),(.16,.8),(.17,3.8),(.18,1.6),(.18,7.7),(.19,4.6),(.2,.3),(.2,2.7),(.21,5.9),(.22,1.3),(.22,3.5),(.23,0),(.24,2.2),(.25,4.3),(.26,1.0),(.27,3.0),(.28,6.4),(.3,2.4),(.33,3.9),(.35,1.7),(.42,4.9),(.5,4.6),(.55,2.9),(.6,1.0),(.2,1.5),(.15,3.0),(.25,1.8)]
C_LGG_CD8_FIT = [(.1,3.0,.6),(.15,2.1,.3),(.2,2.5,.3),(.27,3.3,.4),(.35,4.4,.6),(.45,4.8,.7),(.52,4.2,.8),(.6,2.3,1.1)]
C_LGG_CD4 = [(0,0),(.01,2.3),(.02,4.6),(.03,1.0),(.04,3.4),(.05,6.5),(.06,1.8),(.07,0),(.08,3.9),(.09,2.6),(.1,5.2),(.11,.6),(.12,3.0),(.13,7.8),(.14,1.5),(.15,4.4),(.16,2.2),(.17,0),(.18,5.8),(.19,3.3),(.2,1.2),(.21,4.0),(.22,2.0),(.23,6.7),(.24,.4),(.25,3.6),(.26,2.7),(.27,5.0),(.28,1.6),(.3,3.2),(.32,.8),(.35,4.2),(.38,2.1),(.4,1.3),(.45,3.0),(.5,.5),(.53,0),(.1,1.9),(.2,2.9),(.05,3.1)]
C_LGG_CD4_FIT = [(0,2.55,.3),(.12,2.8,.2),(.25,3.1,.25),(.33,2.9,.4),(.42,1.8,.8),(.52,-.25,1.4)]
C_LGG_MAC = [(0,0),(0,1.6),(.01,3.5),(.02,.7),(.03,2.4),(.04,4.9),(.05,1.2),(.06,3.0),(.07,0),(.08,5.8),(.09,2.0),(.1,3.9),(.11,.9),(.12,2.7),(.13,6.6),(.14,1.5),(.15,4.4),(.16,.3),(.17,3.2),(.18,5.2),(.19,1.9),(.2,2.6),(.21,7.4),(.22,1.0),(.24,3.7),(.26,5.5),(.28,2.3),(.3,4.6),(.32,1.4),(.34,3.4),(.36,6.0),(.38,2.0),(.4,5.1),(.41,1.2),(.25,.2),(.15,2.2),(.05,2.8)]
C_LGG_MAC_FIT = [(0,2.6,.3),(.1,2.75,.2),(.2,3.1,.25),(.3,3.45,.35),(.41,3.9,.6)]
C_LGG_NEU = [(.05,0),(.05,1.8),(.06,3.6),(.07,.8),(.08,2.7),(.08,5.0),(.09,1.4),(.1,0),(.1,3.9),(.11,6.3),(.11,2.2),(.12,.5),(.12,4.6),(.13,1.6),(.13,7.6),(.14,3.1),(.15,0),(.15,5.6),(.16,2.5),(.17,4.0),(.17,1.0),(.18,6.8),(.19,3.4),(.2,.3),(.2,2.0),(.21,4.8),(.22,1.2),(.23,3.7),(.24,2.6),(.25,5.3),(.27,1.5),(.28,4.2),(.3,2.9),(.32,.7),(.33,3.5),(.26,0),(.1,2.0),(.15,2.8)]
C_LGG_NEU_FIT = [(.05,1.2,.5),(.1,2.3,.25),(.15,2.95,.2),(.22,3.1,.3),(.33,3.25,.6)]
C_LGG_DC = [(.2,0),(.22,1.9),(.25,3.6),(.27,.7),(.3,2.6),(.3,5.0),(.32,1.3),(.35,0),(.35,4.1),(.38,2.2),(.4,6.4),(.42,1.0),(.43,3.2),(.45,5.5),(.47,.3),(.48,2.5),(.5,4.5),(.52,1.6),(.53,7.5),(.55,3.0),(.57,.6),(.58,5.9),(.6,2.0),(.62,3.8),(.64,1.2),(.66,4.9),(.68,2.7),(.7,6.8),(.72,0),(.75,3.4),(.78,1.7),(.8,4.3),(.85,2.3),(.9,5.3),(.95,1.0),(1.0,3.1),(1.05,1.5),(1.1,3.9),(.45,2.0),(.55,1.8)]
C_LGG_DC_FIT = [(.2,1.8,.45),(.35,2.5,.3),(.5,2.9,.25),(.65,3.0,.25),(.85,3.0,.4),(1.1,3.8,.75)]

# ---------------------------------------------------------------- panel D (GAS2L3)
D_GBM_PUR = [(.12,4.7),(.15,5.5),(.2,6.3),(.22,6.7),(.25,4.5),(.3,5.9),(.4,5.8),(.5,6.2),(.55,5.6),(.57,6.9),(.58,4.9),(.6,6.4),(.61,5.2),(.62,7.5),(.63,2.7),(.64,6.0),(.65,4.4),(.66,6.8),(.67,5.5),(.68,7.2),(.69,3.9),(.7,6.2),(.71,5.0),(.72,7.8),(.73,4.6),(.74,6.6),(.75,2.9),(.76,5.8),(.77,7.0),(.78,4.2),(.79,6.4),(.8,5.3),(.81,7.6),(.82,3.5),(.83,6.9),(.84,5.7),(.85,8.0),(.86,4.8),(.87,6.5),(.88,2.6),(.89,7.3),(.9,5.9),(.91,6.8),(.92,4.1),(.93,7.9),(.94,6.2),(.95,5.1),(.96,7.1),(.97,6.6),(.98,3.4),(.99,7.4),(1.0,6.0),(1.0,8.1),(.85,6.1),(.75,6.0),(.95,6.9)]
D_GBM_PUR_FIT = [(.12,5.5,.5),(.3,5.7,.35),(.5,5.85,.3),(.7,5.95,.25),(.85,6.25,.25),(1.0,6.9,.4)]
D_GBM_BC = [(0,3.6),(0,4.3),(0,5.0),(0,5.6),(0,6.1),(0,6.6),(0,7.1),(0,7.6),(0,8.3),(.02,5.2),(.03,6.8),(.04,4.1),(.05,7.3),(.06,5.9),(.07,2.8),(.08,6.4),(.09,4.7),(.1,7.0),(.11,5.5),(.12,6.2),(.13,7.7),(.14,4.4),(.15,6.6),(.16,5.8),(.17,7.2),(.18,4.9),(.19,6.0),(.2,7.5),(.21,5.4),(.22,6.9),(.23,3.0),(.24,5.2),(.25,6.3),(.26,4.6),(.27,7.1),(.28,5.7),(.3,4.2),(.32,6.8),(.35,5.5),(.38,3.4),(.42,7.0),(.45,6.1),(.48,5.9)]
D_GBM_BC_FIT = [(0,6.15,.3),(.08,6.0,.3),(.16,6.55,.3),(.25,6.45,.35),(.35,6.2,.45),(.47,6.2,.7)]
D_GBM_CD8 = [(.01,4.2),(.01,4.8),(.01,5.3),(.01,5.8),(.01,6.3),(.01,6.8),(.01,7.3),(.01,3.6),(.01,3.1),(.02,2.6),(.05,6.5),(.07,7.0),(.08,5.2),(.1,6.1),(.12,3.8),(.14,6.9),(.15,5.6),(.17,7.9),(.18,6.3),(.2,4.6),(.22,5.9),(.24,7.3),(.25,6.7),(.27,4.9),(.3,6.2),(.32,5.4),(.34,7.5),(.36,6.8),(.38,5.1),(.4,6.5),(.42,7.1),(.44,4.4),(.46,6.0),(.48,5.6),(.5,3.5),(.52,6.9),(.55,5.0),(.58,4.2),(.6,6.3),(.63,5.8),(.65,4.5),(.2,2.6)]
D_GBM_CD8_FIT = [(.01,6.05,.3),(.12,6.35,.25),(.25,6.55,.25),(.38,6.35,.3),(.5,6.05,.4),(.65,5.55,.7)]
D_GBM_CD4 = [(0,3.3),(0,4.0),(0,4.6),(0,5.2),(0,5.8),(0,6.4),(0,7.0),(0,7.6),(0,8.1),(.03,7.4),(.05,5.6),(.07,6.8),(.09,4.3),(.1,6.2),(.12,8.0),(.14,5.9),(.16,3.3),(.18,6.6),(.2,5.5),(.22,7.1),(.24,6.0),(.26,4.7),(.28,6.4),(.3,5.2),(.32,2.7),(.35,6.1),(.38,4.9),(.4,5.7),(.43,4.1),(.46,7.3),(.48,4.9),(.5,5.3),(.4,2.9)]
D_GBM_CD4_FIT = [(0,6.9,.45),(.06,6.3,.35),(.12,6.0,.3),(.2,6.15,.3),(.3,5.9,.35),(.4,5.5,.45),(.5,4.8,.65)]
D_GBM_MAC = [(0,3.0),(0,3.7),(0,4.4),(0,5.1),(0,5.8),(0,6.5),(0,7.2),(0,7.9),(.02,6.9),(.03,5.4),(.05,7.5),(.06,6.1),(.07,4.6),(.08,7.0),(.1,5.8),(.11,6.6),(.12,3.5),(.14,7.4),(.15,5.3),(.17,6.3),(.18,4.8),(.2,6.9),(.22,5.6),(.24,3.8),(.26,6.0),(.28,5.1),(.3,6.5),(.32,4.3),(.35,5.7),(.38,6.2),(.4,5.4),(.42,5.6),(.25,2.9)]
D_GBM_MAC_FIT = [(0,6.35,.35),(.05,6.7,.3),(.1,6.35,.25),(.2,6.05,.3),(.3,5.65,.4),(.42,5.5,.7)]
D_GBM_NEU = [(0,6.4),(0,5.0),(.01,3.8),(.02,7.0),(.03,6.0),(.04,5.3),(.05,7.6),(.06,6.7),(.07,4.5),(.08,7.2),(.09,6.1),(.1,5.6),(.1,3.3),(.11,7.9),(.12,6.4),(.13,4.9),(.14,7.1),(.15,6.0),(.16,5.4),(.17,3.9),(.18,6.8),(.19,7.4),(.2,5.8),(.21,4.3),(.22,6.5),(.23,7.3),(.24,5.1),(.25,6.2),(.26,2.9),(.27,7.6),(.28,6.0),(.29,4.6),(.3,6.6),(.31,5.5),(.32,3.4),(.33,6.3),(.2,2.7),(.05,2.6)]
D_GBM_NEU_FIT = [(0,6.45,.35),(.05,6.6,.3),(.12,6.35,.25),(.2,6.3,.25),(.28,6.2,.35),(.33,5.85,.55)]
D_GBM_DC = [(0,7.7),(.03,6.9),(.05,5.5),(.07,7.2),(.1,6.3),(.12,4.6),(.14,7.6),(.16,6.0),(.18,5.2),(.2,7.0),(.22,6.6),(.24,3.8),(.25,5.7),(.27,7.4),(.3,6.2),(.32,4.9),(.34,6.8),(.36,5.4),(.38,3.3),(.4,6.4),(.42,5.0),(.45,7.1),(.48,5.8),(.5,4.3),(.55,6.5),(.6,5.3),(.65,2.9),(.7,6.0),(.75,5.5),(.8,6.3),(.9,3.6),(1.0,6.1),(1.1,5.6),(1.15,6.5),(1.2,5.2),(.2,8.0),(.4,2.8)]
D_GBM_DC_FIT = [(0,6.65,.35),(.15,6.45,.25),(.3,6.15,.25),(.45,6.0,.3),(.7,6.05,.35),(.95,5.95,.45),(1.2,5.75,.7)]
D_LGG_PUR = [(.12,2.9),(.13,4.7),(.15,1.3),(.17,3.5),(.18,2.2),(.2,4.2),(.21,.7),(.22,5.8),(.24,3.0),(.25,1.8),(.26,6.1),(.28,4.0),(.3,2.5),(.32,3.6),(.35,.6),(.38,4.9),(.4,2.9),(.45,3.8),(.5,1.6),(.52,4.4),(.55,6.9),(.56,2.3),(.58,3.5),(.6,.9),(.6,5.4),(.62,2.7),(.63,4.2),(.64,7.1),(.65,1.7),(.66,3.1),(.67,5.9),(.68,0),(.69,2.4),(.7,4.6),(.71,3.3),(.72,6.5),(.73,1.1),(.74,3.9),(.75,2.1),(.76,5.2),(.77,.4),(.78,3.0),(.79,6.9),(.8,2.6),(.81,4.3),(.82,1.5),(.83,3.6),(.84,5.7),(.85,0),(.86,2.9),(.87,4.9),(.88,1.9),(.89,6.2),(.9,3.4),(.91,0),(.92,2.4),(.93,4.0),(.94,6.8),(.95,1.3),(.96,3.2),(.97,0),(.98,5.0),(.99,2.7),(1.0,3.8),(1.0,0),(.75,0),(.8,3.5),(.9,2.8),(.85,3.3),(.7,3.8)]
D_LGG_PUR_FIT = [(.12,3.0,.45),(.3,3.6,.3),(.5,3.75,.25),(.65,3.55,.2),(.78,3.15,.2),(.9,3.3,.2),(1.0,3.4,.3)]
D_LGG_BC = [(0,0),(0,1.2),(.01,2.4),(.02,.5),(.02,3.3),(.03,1.7),(.04,0),(.04,2.9),(.05,4.2),(.05,1.0),(.06,2.1),(.07,3.6),(.07,.4),(.08,5.0),(.08,2.6),(.09,1.5),(.1,3.9),(.1,6.1),(.11,2.3),(.12,4.7),(.12,.9),(.13,3.2),(.14,5.6),(.14,1.8),(.15,4.1),(.16,6.9),(.16,2.8),(.17,4.9),(.18,3.5),(.18,6.3),(.19,1.4),(.2,4.4),(.2,6.8),(.21,2.7),(.22,5.3),(.23,3.8),(.24,6.0),(.25,4.7),(.26,2.2),(.27,5.5),(.28,3.4),(.3,4.8),(.32,5.6),(.34,3.9),(.1,0),(.15,0),(.06,0)]
D_LGG_BC_FIT = [(0,1.5,.35),(.05,2.4,.2),(.1,3.4,.15),(.15,4.1,.2),(.2,4.55,.25),(.25,4.7,.3),(.32,4.35,.45)]
D_LGG_CD8 = [(.1,0),(.1,1.8),(.11,3.2),(.12,.8),(.12,2.5),(.13,4.1),(.14,1.4),(.14,0),(.15,3.6),(.15,5.2),(.16,2.2),(.17,4.6),(.17,.5),(.18,6.3),(.18,3.0),(.19,1.7),(.2,5.5),(.2,3.9),(.21,7.0),(.21,2.6),(.22,4.8),(.23,6.1),(.23,1.2),(.24,3.4),(.25,5.8),(.25,0),(.26,4.3),(.27,6.7),(.28,2.9),(.29,5.1),(.3,3.7),(.32,6.2),(.35,4.6),(.4,6.0),(.45,5.5),(.5,5.7),(.57,2.6),(.6,4.4),(.18,1.0),(.22,3.6)]
D_LGG_CD8_FIT = [(.1,2.0,.4),(.15,2.9,.25),(.2,3.8,.25),(.27,5.0,.35),(.35,6.1,.55),(.43,6.4,.7),(.5,6.0,.8),(.6,4.0,1.1)]
D_LGG_CD4 = [(0,0),(0,1.6),(.01,3.4),(.02,5.2),(.03,.8),(.03,2.5),(.04,6.9),(.05,4.1),(.06,1.4),(.07,3.0),(.08,5.8),(.08,.3),(.09,2.2),(.1,4.6),(.11,6.5),(.11,1.1),(.12,3.5),(.13,5.1),(.14,2.0),(.14,0),(.15,3.8),(.16,6.2),(.17,1.5),(.18,4.4),(.19,2.7),(.2,5.5),(.21,.6),(.22,3.3),(.23,6.8),(.24,1.9),(.25,4.9),(.27,2.9),(.28,6.0),(.3,3.9),(.32,1.3),(.33,5.2),(.35,2.6),(.38,4.6),(.4,3.2),(.45,5.9),(.52,1.3),(.2,0)]
D_LGG_CD4_FIT = [(0,2.9,.35),(.08,3.65,.2),(.15,3.95,.2),(.25,4.0,.25),(.35,3.85,.4),(.45,3.5,.8),(.53,2.95,1.3)]
D_LGG_MAC = [(0,0),(0,1.9),(.01,3.7),(.02,5.5),(.03,1.0),(.04,2.7),(.05,6.9),(.06,4.4),(.07,.4),(.08,2.2),(.09,5.1),(.1,3.3),(.11,1.4),(.12,6.3),(.13,2.9),(.14,4.7),(.15,0),(.16,3.8),(.17,6.8),(.18,1.8),(.19,4.2),(.2,2.5),(.21,5.6),(.22,3.5),(.24,6.5),(.26,1.2),(.27,4.6),(.29,3.0),(.3,6.0),(.32,4.1),(.34,2.4),(.36,5.3),(.38,3.6),(.4,6.2),(.41,4.8),(.05,0),(.1,0)]
D_LGG_MAC_FIT = [(0,2.8,.3),(.1,3.3,.2),(.2,3.95,.25),(.3,4.6,.35),(.42,5.2,.6)]
D_LGG_NEU = [(.05,0),(.05,1.5),(.06,3.0),(.07,.6),(.07,2.3),(.08,4.4),(.08,0),(.09,1.8),(.1,3.6),(.1,5.5),(.11,2.7),(.11,.9),(.12,4.8),(.12,6.8),(.13,3.3),(.13,1.4),(.14,5.9),(.15,2.4),(.15,4.2),(.16,.3),(.16,6.4),(.17,3.7),(.18,1.9),(.18,5.1),(.19,2.9),(.2,6.9),(.2,4.0),(.21,1.2),(.22,5.6),(.23,3.1),(.24,4.6),(.25,2.2),(.26,6.2),(.27,3.8),(.28,5.0),(.3,2.8),(.31,4.4),(.33,6.0),(.35,3.4),(.12,0),(.15,3.0),(.1,2.5)]
D_LGG_NEU_FIT = [(.05,2.4,.4),(.1,3.3,.2),(.15,3.95,.2),(.2,4.35,.25),(.27,4.65,.35),(.33,4.75,.55)]
D_LGG_DC = [(.2,0),(.22,1.7),(.24,3.2),(.25,.6),(.27,2.4),(.28,4.5),(.3,0),(.3,1.2),(.32,3.6),(.33,5.6),(.35,2.0),(.36,.4),(.38,4.1),(.4,6.6),(.4,2.8),(.42,1.5),(.43,5.1),(.45,3.4),(.46,0),(.47,6.9),(.48,2.3),(.5,4.6),(.52,1.0),(.53,3.8),(.55,5.9),(.57,2.7),(.6,4.2),(.62,6.4),(.65,3.1),(.68,1.6),(.7,5.2),(.75,3.6),(.8,6.1),(.85,4.3),(.9,2.5),(.95,5.0),(1.0,4.7),(1.1,6.2),(1.2,5.8),(.38,0),(.42,0)]
D_LGG_DC_FIT = [(.2,2.0,.4),(.35,3.0,.25),(.5,3.75,.25),(.7,4.3,.3),(.9,4.7,.45),(1.15,5.5,.9)]

# ---------------------------------------------------------------- style / layout
FONT = "Liberation Sans"
FW, FH = 92, 90
CGAP = 3
YT_W, AX_W, ST_W = 15, 19, 8
XAX_B = 14
HDR_H = 12
PANEL_SP = 14
EDGE = "#8c8c8c"
STRIP_BG = "#d9d9d9"
PT_COL = "#1f1f1f"
FIT_COL = "#3366ff"
BAND_COL = "#999999"
RED_TXT = "#d42027"
BLUE_TXT = "#3b69d1"
BOX_COL = "#c1161c"
GRID_MAJ = "#e3e3e3"
GRID_MIN = "#f1f1f1"
G = globals()

BOLD_W = {'c': 556, 'o': 611, 'r': 389, '=': 584, '.': 278, '-': 333, 'e': 556, 'P': 667}


def tw(s, size):
    return sum(BOLD_W.get(ch, 556) for ch in s) * size / 1000.0


def mkfig(**kw):
    base = dict(toolbar_location=None, output_backend="svg", title=None,
                x_axis_location=None, y_axis_location=None,
                min_border_left=0, min_border_right=0, min_border_top=0, min_border_bottom=0,
                align="start")
    base.update(kw)
    p = figure(**base)
    p.center = []
    return p


def minors(t, lo, hi):
    step = (t[1] - t[0]) if len(t) > 1 else 1.0
    m = [a - step / 2.0 for a in t] + [t[-1] + step / 2.0]
    return [v for v in m if lo < v < hi]


def add_grid(p, ticks, rng, dim):
    g = Grid(dimension=dim, ticker=FixedTicker(ticks=ticks, minor_ticks=minors(ticks, rng.start, rng.end)),
             grid_line_color=GRID_MAJ, grid_line_width=0.8,
             minor_grid_line_color=GRID_MIN, minor_grid_line_width=0.6)
    p.add_layout(g)


def mk_axis(ticks, fmt, tick_out=2):
    ax = LinearAxis(ticker=FixedTicker(ticks=ticks), formatter=NumeralTickFormatter(format=fmt))
    ax.axis_line_color = None
    ax.major_tick_line_color = "#4d4d4d"
    ax.major_tick_in = 0
    ax.major_tick_out = tick_out
    ax.minor_tick_line_color = None
    ax.major_label_standoff = 1
    ax.major_label_text_font = FONT
    ax.major_label_text_font_size = "9px"
    ax.major_label_text_color = "#4d4d4d"
    return ax


def add_stats(p, cor, pv, col):
    size = 7.5
    yv = FH - 9.5
    common = dict(y=yv, x_units="screen", y_units="screen", text_font=FONT,
                  text_font_size="%.1fpx" % size, text_color=col, text_baseline="middle",
                  text_align="right")
    rest = "=" + pv
    x1 = FW - 3.5
    p.add_layout(Label(x=x1, text=rest, text_font_style="bold", **common))
    x2 = x1 - tw(rest, size)
    p.add_layout(Label(x=x2, text="P", text_font_style="bold italic", **common))
    x3 = x2 - tw("P", size) - 5.5
    p.add_layout(Label(x=x3, text="cor=" + cor, text_font_style="bold", **common))


def frame_fig(xr, yr, xt, yt, left, bottom, pts, fit, cor, pv, col, xaxis=None):
    p = mkfig(frame_width=FW, frame_height=FH, x_range=xr, y_range=yr,
              min_border_left=left, min_border_bottom=bottom,
              background_fill_color="white", outline_line_color=EDGE, outline_line_width=1)
    add_grid(p, xt, xr, 0)
    add_grid(p, yt, yr, 1)
    p.scatter([a for a, b in pts], [b for a, b in pts], size=3.6, marker="circle",
              fill_color=PT_COL, line_color=None)
    fx = [f[0] for f in fit]
    p.varea(x=fx, y1=[f[1] - f[2] for f in fit], y2=[f[1] + f[2] for f in fit],
            fill_color=BAND_COL, fill_alpha=0.4)
    p.line(fx, [f[1] for f in fit], line_color=FIT_COL, line_width=1.4)
    add_stats(p, cor, pv, col)
    if xaxis is not None:
        p.add_layout(mk_axis(*xaxis), "below")
    return p


def strip_fig(text, left):
    p = mkfig(frame_width=FW, frame_height=8, x_range=Range1d(0, 1), y_range=Range1d(0, 1),
              min_border_left=left, min_border_top=HDR_H - 8,
              background_fill_color=STRIP_BG, outline_line_color=EDGE)
    p.add_layout(Label(x=0.5, y=0.55, text=text, text_align="center", text_baseline="middle",
                       text_font=FONT, text_font_size="9px", text_color="#1a1a1a"))
    return p


def rs_fig(text, yr, yt, yf, bottom, axis=True):
    p = mkfig(frame_width=ST_W, frame_height=FH, x_range=Range1d(0, 1), y_range=yr,
              min_border_left=(AX_W if axis else 0), min_border_bottom=bottom,
              background_fill_color=STRIP_BG, outline_line_color=EDGE)
    if axis:
        p.add_layout(mk_axis(yt, yf), "left")
    p.add_layout(Label(x=ST_W / 2.0, y=FH / 2.0, x_units="screen", y_units="screen", text=text,
                       angle=math.pi / 2, text_align="center", text_baseline="middle",
                       text_font=FONT, text_font_size="9px", text_color="#1a1a1a"))
    return p


def yax_fig(yr, yt, yf):
    p = mkfig(frame_width=1, frame_height=FH, x_range=Range1d(0, 1), y_range=yr,
              min_border_left=AX_W - 4, min_border_top=3, outline_line_color=None)
    p.add_layout(mk_axis(yt, yf), "left")
    return p


def xax_fig(xr, xt, xf, left):
    p = mkfig(frame_width=FW, frame_height=1, x_range=xr, y_range=Range1d(0, 1),
              min_border_left=left, min_border_bottom=11, outline_line_color=None,
              background_fill_alpha=0, border_fill_alpha=0)
    p.add_layout(mk_axis(xt, xf, tick_out=0), "below")
    return p


def vbar(h):
    return mkfig(width=3, height=h, background_fill_color=BOX_COL, border_fill_color=BOX_COL,
                 outline_line_color=None)


def hbar(w):
    html = '<div style="width:%dpx;height:3px;background-color:%s;"></div>' % (w, BOX_COL)
    return Div(text=html, width=w, height=3, margin=(0, 0, 0, 0), align="start",
               styles={"background-color": BOX_COL, "overflow": "hidden", "line-height": "0"})


def build_panel(P, gene_title):
    ab = P in ("A", "B")
    xt = XT_AB if ab else XT_CD
    xf = XF_AB if ab else XF_CD
    xr = [Range1d(*r) for r in G[P + "_XR"]]
    yr = {t: Range1d(*G[P + "_YR_" + t]) for t in ("GBM", "LGG")}
    ytk = {t: G[P + "_YT_" + t] for t in ("GBM", "LGG")}
    yfm = {t: G[P + "_YF_" + t] for t in ("GBM", "LGG")}
    special = (P == "D")

    header_row = row([Spacer(width=AX_W + ST_W, height=HDR_H)]
                     + [strip_fig(n, 0 if i == 0 else CGAP) for i, n in enumerate(CELL_NAMES)])

    def frames(t, bottom, col, with_axis):
        out = []
        for i, k in enumerate(CELL_KEYS):
            out.append(frame_fig(xr[i], yr[t], xt[i], ytk[t], 0 if i == 0 else CGAP, bottom,
                                 G["%s_%s_%s" % (P, t, k)], G["%s_%s_%s_FIT" % (P, t, k)],
                                 G["%s_%s_COR" % (P, t)][i], G["%s_%s_PV" % (P, t)][i], col,
                                 (xt[i], xf[i]) if with_axis else None))
        return out

    gb = 0 if special else CGAP
    gbm_row = row([rs_fig("GBM", yr["GBM"], ytk["GBM"], yfm["GBM"], gb)] + frames("GBM", gb, RED_TXT, False))

    if not special:
        lgg_row = row([rs_fig("LGG", yr["LGG"], ytk["LGG"], yfm["LGG"], XAX_B)]
                      + frames("LGG", XAX_B, RED_TXT, True))
        right = column([header_row, gbm_row, lgg_row])
    else:
        wbox = 3 + ST_W + FW + 6 * (FW + CGAP) + 3
        inner = row([vbar(FH), rs_fig("LGG", yr["LGG"], None, None, 0, axis=False)]
                    + frames("LGG", 0, BLUE_TXT, False) + [vbar(FH)])
        boxed = column([hbar(wbox), inner, hbar(wbox)])
        lgg_row = row([yax_fig(yr["LGG"], ytk["LGG"], yfm["LGG"]), boxed])
        xax_row = row([Spacer(width=AX_W + ST_W, height=1)]
                      + [xax_fig(xr[i], xt[i], xf[i], 0 if i == 0 else CGAP) for i in range(7)])
        right = column([header_row, gbm_row, lgg_row, xax_row])

    lh = HDR_H + 2 * FH + CGAP
    yt = mkfig(frame_width=YT_W, frame_height=lh, x_range=Range1d(0, 1),
               y_range=Range1d(0, 1), outline_line_color=None)
    yt.add_layout(Label(x=1, y=lh - 1, x_units="screen", y_units="screen", text="(%s)" % P,
                        text_align="left", text_baseline="top", text_font=FONT,
                        text_font_size="10px", text_font_style="bold", text_color="#111111"))
    yt.add_layout(Label(x=5.5, y=(2 * FH + CGAP) / 2.0, x_units="screen", y_units="screen",
                        text=gene_title, angle=math.pi / 2, text_align="center",
                        text_baseline="middle", text_font=FONT, text_font_size="9.5px",
                        text_color="#1a1a1a"))
    return row([yt, right])


layout = column([build_panel(P, GENE_TITLES[i]) for i, P in enumerate(PANELS)], spacing=PANEL_SP)

open("out.html", "w").write(file_html(layout, INLINE))
